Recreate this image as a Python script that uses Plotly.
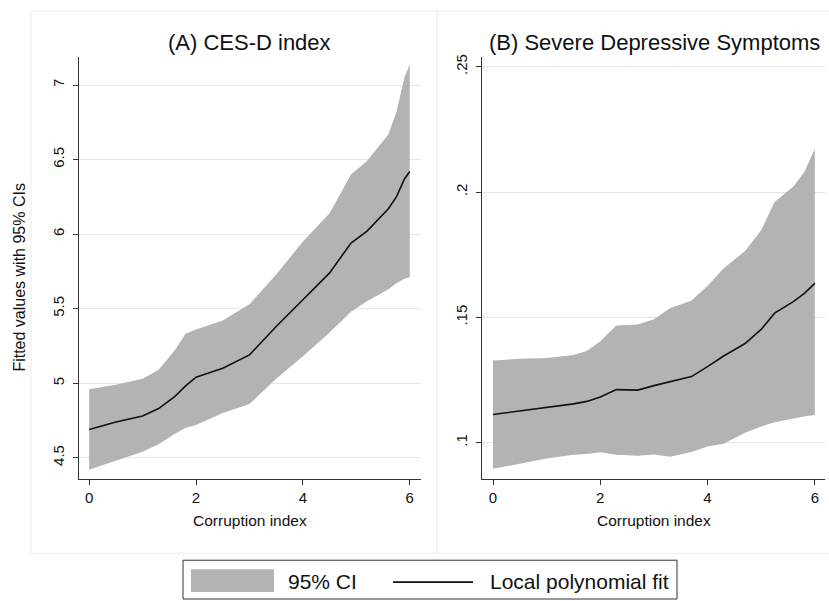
import plotly.graph_objects as go

# ---------------- data ----------------
# Panel A: CES-D index
xa = [0, 0.5, 1, 1.3, 1.6, 1.8, 2, 2.5, 3, 3.5, 4, 4.5, 4.9, 5.2, 5.6, 5.75, 5.9, 6]
fit_a = [4.69, 4.74, 4.78, 4.83, 4.91, 4.98, 5.04, 5.10, 5.19, 5.38, 5.56, 5.74, 5.94, 6.02, 6.17,
         6.25, 6.37, 6.42]
hi_a = [4.96, 4.99, 5.03, 5.09, 5.22, 5.33, 5.36, 5.42, 5.53, 5.73, 5.95, 6.14, 6.40, 6.49, 6.67,
        6.82, 7.05, 7.14]
lo_a = [4.42, 4.48, 4.54, 4.59, 4.66, 4.70, 4.72, 4.80, 4.86, 5.03, 5.18, 5.34, 5.48, 5.55, 5.63,
        5.67, 5.70, 5.71]

# Panel B: Severe Depressive Symptoms
xb = [0, 0.5, 1, 1.5, 1.75, 2, 2.3, 2.7, 3, 3.3, 3.7, 4, 4.3, 4.7, 5, 5.25, 5.6, 5.8, 6]
fit_b = [0.1113, 0.1127, 0.1140, 0.1155, 0.1165, 0.1183, 0.1212, 0.1210, 0.1228, 0.1243,
         0.1264, 0.1304, 0.1346, 0.1396, 0.1452, 0.1517, 0.1563, 0.1595, 0.1636]
hi_b = [0.1328, 0.1335, 0.1338, 0.1350, 0.1366, 0.1405, 0.1468, 0.1472, 0.1493, 0.1537,
        0.1568, 0.1625, 0.1696, 0.1765, 0.1848, 0.1960, 0.2022, 0.2078, 0.2172]
lo_b = [0.0896, 0.0915, 0.0937, 0.0952, 0.0955, 0.0962, 0.0952, 0.0948, 0.0953, 0.0944,
        0.0963, 0.0985, 0.0996, 0.1040, 0.1065, 0.1082, 0.1098, 0.1105, 0.1111]

x_ticks = [0, 2, 4, 6]
ya_ticks = [4.5, 5, 5.5, 6, 6.5, 7]
ya_labels = ["4.5", "5", "5.5", "6", "6.5", "7"]
yb_ticks = [0.1, 0.15, 0.2, 0.25]
yb_labels = [".1", ".15", ".2", ".25"]

title_a = "(A) CES-D index"
title_b = "(B) Severe Depressive Symptoms"
x_title = "Corruption index"
y_title = "Fitted values with 95% CIs"
legend_ci = "95% CI"
legend_fit = "Local polynomial fit"

# ---------------- styling ----------------
W, H = 829, 601
FONT = "Liberation Sans, Arial, Helvetica, sans-serif"
CI_COLOR = "#b3b3b3"
LINE_COLOR = "#111111"
AXIS_COLOR = "#333333"
GRID_COLOR = "#e6e6e6"
FRAME_COLOR = "#ececec"


def px_x(p):
    return p / W


def px_y(p):
    return 1 - p / H


fig = go.Figure()

for (xs, lo, hi, fit, xa_name, ya_name) in [
    (xa, lo_a, hi_a, fit_a, "x", "y"),
    (xb, lo_b, hi_b, fit_b, "x2", "y2"),
]:
    fig.add_trace(go.Scatter(x=xs, y=lo, mode="lines", line=dict(width=0, color=CI_COLOR),
                             xaxis=xa_name, yaxis=ya_name, showlegend=False, hoverinfo="skip"))
    fig.add_trace(go.Scatter(x=xs, y=hi, mode="lines", line=dict(width=0, color=CI_COLOR),
                             fill="tonexty", fillcolor=CI_COLOR,
                             xaxis=xa_name, yaxis=ya_name, showlegend=False, name=legend_ci))
    fig.add_trace(go.Scatter(x=xs, y=fit, mode="lines", line=dict(width=1.6, color=LINE_COLOR),
                             xaxis=xa_name, yaxis=ya_name, showlegend=False, name=legend_fit))

axis_common = dict(
    showline=True, linecolor=AXIS_COLOR, linewidth=1,
    ticks="outside", ticklen=5, tickwidth=1, tickcolor=AXIS_COLOR,
    tickfont=dict(family=FONT, size=15, color="#111111"),
    zeroline=False,
)

plot_top, plot_bot = 54, 478
ydom = [px_y(plot_bot), px_y(plot_top)]

fig.update_layout(
    width=W, height=H,
    margin=dict(l=0, r=0, t=0, b=0),
    paper_bgcolor="white", plot_bgcolor="white",
    showlegend=False,
    font=dict(family=FONT, color="#111111"),
    xaxis=dict(domain=[px_x(79), px_x(421)], range=[-0.19, 6.21], tickvals=x_ticks,
               showgrid=False, anchor="y", **axis_common),
    yaxis=dict(domain=ydom, range=[4.36, 7.19], tickvals=ya_ticks, ticktext=ya_labels,
               tickangle=-90, ticklabelstandoff=3, showgrid=True, gridcolor=GRID_COLOR,
               gridwidth=1, anchor="x", **axis_common),
    xaxis2=dict(domain=[px_x(482), px_x(825)], range=[-0.205, 6.19], tickvals=x_ticks,
                showgrid=False, anchor="y2", **axis_common),
    yaxis2=dict(domain=ydom, range=[0.0857, 0.254], tickvals=yb_ticks, ticktext=yb_labels,
                tickangle=-90, ticklabelstandoff=3, showgrid=True, gridcolor=GRID_COLOR,
                gridwidth=1, anchor="x2", **axis_common),
)

shapes = [
    # panel frames
    dict(type="rect", xref="paper", yref="paper", x0=px_x(31), x1=px_x(437), y0=px_y(553), y1=px_y(8),
         line=dict(color=FRAME_COLOR, width=1), layer="below"),
    dict(type="rect", xref="paper", yref="paper", x0=px_x(437), x1=px_x(835), y0=px_y(553), y1=px_y(8),
         line=dict(color=FRAME_COLOR, width=1), layer="below"),
    # legend box
    dict(type="rect", xref="paper", yref="paper", x0=px_x(183), x1=px_x(677), y0=px_y(599), y1=px_y(560),
         line=dict(color=AXIS_COLOR, width=1), fillcolor="white"),
    # legend CI swatch
    dict(type="rect", xref="paper", yref="paper", x0=px_x(191), x1=px_x(274), y0=px_y(592), y1=px_y(569),
         line=dict(width=0), fillcolor=CI_COLOR),
    # legend line sample
    dict(type="line", xref="paper", yref="paper", x0=px_x(393), x1=px_x(473), y0=px_y(582), y1=px_y(582),
         line=dict(color=LINE_COLOR, width=1.6)),
]

annotations = [
    dict(text=title_a, x=px_x(250), y=px_y(40), xref="paper", yref="paper", showarrow=False,
         font=dict(family=FONT, size=22, color="#111111"), xanchor="center", yanchor="middle"),
    dict(text=title_b, x=px_x(654), y=px_y(40), xref="paper", yref="paper", showarrow=False,
         font=dict(family=FONT, size=22, color="#111111"), xanchor="center", yanchor="middle"),
    dict(text=x_title, x=px_x(250), y=px_y(520), xref="paper", yref="paper", showarrow=False,
         font=dict(family=FONT, size=15.5, color="#111111"), xanchor="center", yanchor="middle"),
    dict(text=x_title, x=px_x(654), y=px_y(520), xref="paper", yref="paper", showarrow=False,
         font=dict(family=FONT, size=15.5, color="#111111"), xanchor="center", yanchor="middle"),
    dict(text=y_title, x=px_x(20), y=px_y(276), xref="paper", yref="paper", showarrow=False,
         textangle=-90, font=dict(family=FONT, size=16, color="#111111"),
         xanchor="center", yanchor="middle"),
    dict(text=legend_ci, x=px_x(286), y=px_y(581), xref="paper", yref="paper", showarrow=False,
         font=dict(family=FONT, size=21, color="#111111"), xanchor="left", yanchor="middle"),
    dict(text=legend_fit, x=px_x(488), y=px_y(581), xref="paper", yref="paper", showarrow=False,
         font=dict(family=FONT, size=21, color="#111111"), xanchor="left", yanchor="middle"),
]

fig.update_layout(shapes=shapes, annotations=annotations)

fig.write_html(
    "out.html",
    config={"displayModeBar": False},
    post_script="document.body.style.margin='0';document.body.style.overflow='hidden';",
)
